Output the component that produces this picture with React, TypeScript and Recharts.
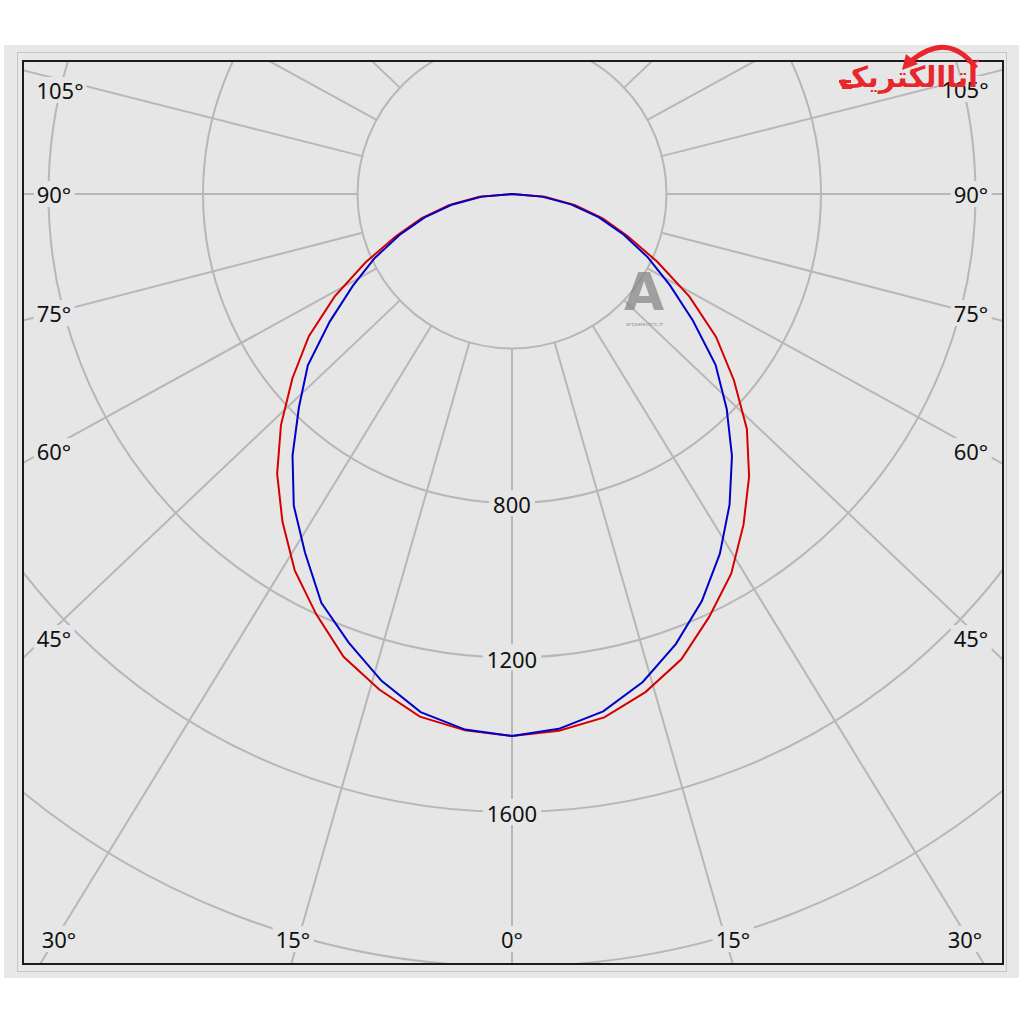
import React from "react"
import {
  RadarChart,
  Radar,
  PolarGrid,
  PolarAngleAxis,
  PolarRadiusAxis,
} from "recharts"

// ── Data (cd) ─────────────────────────────────────────────────────────────────

// gamma angle from nadir, 5° steps, one half-plane
const GAMMA = [0, 5, 10, 15, 20, 25, 30, 35, 40, 45, 50, 55, 60, 65, 70, 75, 80, 85, 90]

const RED_RIGHT  = [1403, 1395, 1376, 1335, 1282, 1208, 1135, 1045, 955, 860, 750, 645, 530, 415, 318, 243, 166, 85, 0]
const RED_LEFT   = [1403, 1394, 1374, 1328, 1275, 1200, 1125, 1036, 946, 846, 742, 642, 530, 418, 320, 243, 166, 85, 0]
const BLUE_RIGHT = [1403, 1390, 1360, 1308, 1240, 1163, 1076, 982, 886, 786, 688, 572, 472, 388, 308, 232, 155, 78, 0]
const BLUE_LEFT  = [1403, 1392, 1362, 1305, 1236, 1168, 1072, 985, 884, 780, 690, 576, 476, 392, 310, 234, 156, 78, 0]

const RADIUS_TICKS  = [400, 800, 1200, 1600, 2000, 2400, 2800]
const RADIUS_LABELS = [800, 1200, 1600]

// rays as the source program draws them (a touch wider than the nominal 15° steps)
const GRID_RAYS = [0, 16, 31.5, 46.5, 61.2, 75.5, 90, 104.2, 118.7, 133.5, 148.7, 164.2, 180]

const ANGLE_LABELS = [
  { text: "105°", x: 60, y: 90 },
  { text: "90°", x: 54, y: 194 },
  { text: "75°", x: 54, y: 313 },
  { text: "60°", x: 54, y: 451 },
  { text: "45°", x: 54, y: 638 },
  { text: "30°", x: 59, y: 939 },
  { text: "15°", x: 293, y: 939 },
  { text: "0°", x: 512, y: 939 },
  { text: "15°", x: 733, y: 939 },
  { text: "30°", x: 965, y: 939 },
  { text: "45°", x: 971, y: 638 },
  { text: "60°", x: 971, y: 451 },
  { text: "75°", x: 971, y: 313 },
  { text: "90°", x: 971, y: 194 },
  { text: "105°", x: 965, y: 89 },
]

// ── Geometry ─────────────────────────────────────────────────────────────────

const PX_PER_CD = 154.5 / 400
const FRAME = { left: 22, top: 60, width: 982, height: 905, border: 2 }
const CENTER = { x: 512, y: 194 }
const STEP = 5

// full circle of 5° rows, counter-clockwise from nadir; back half is dark
const rows: { gamma: number; red: number; blue: number }[] = []
for (let i = 0; i < 360 / STEP; i++) {
  const g = i * STEP
  let red = 0
  let blue = 0
  if (g <= 90) {
    const k = GAMMA.indexOf(g)
    red = RED_RIGHT[k]
    blue = BLUE_RIGHT[k]
  } else if (g >= 270) {
    const k = GAMMA.indexOf(360 - g)
    red = RED_LEFT[k]
    blue = BLUE_LEFT[k]
  }
  rows.push({ gamma: g, red, blue })
}

const gridAngles = [
  ...GRID_RAYS.map((a) => a - 90),
  ...GRID_RAYS.filter((a) => a > 0 && a < 180).map((a) => -90 - a),
]

const FONT = "'Noto Sans', 'DejaVu Sans', sans-serif"

function RadiusTick(props: any) {
  const { x, y, payload } = props
  if (!RADIUS_LABELS.includes(payload.value)) return <g />
  const w = String(payload.value).length * 12.6 + 8
  return (
    <g>
      <rect x={x - w / 2} y={y - 13} width={w} height={26} fill="#e6e6e6" />
      <text
        x={x}
        y={y + 1}
        textAnchor="middle"
        dominantBaseline="central"
        fontSize={22}
        fontFamily={FONT}
        fill="#111"
      >
        {payload.value}
      </text>
    </g>
  )
}

export default function App() {
  const inner = FRAME.width - 2 * FRAME.border
  const innerH = FRAME.height - 2 * FRAME.border
  const cx = CENTER.x - FRAME.left - FRAME.border
  const cy = CENTER.y - FRAME.top - FRAME.border

  return (
    <div style={{ position: "absolute", left: 0, top: 0, width: 1024, height: 1024, background: "#fff", fontFamily: FONT }}>
      {/* panel */}
      <div style={{ position: "absolute", left: 4, top: 45, width: 1015, height: 933, background: "#e8e8e8" }} />
      <div style={{ position: "absolute", left: 17, top: 52, width: 990, height: 920, border: "1px solid #c6c6c6", boxSizing: "border-box" }} />

      {/* plot frame */}
      <div
        style={{
          position: "absolute",
          left: FRAME.left,
          top: FRAME.top,
          width: FRAME.width,
          height: FRAME.height,
          border: `${FRAME.border}px solid #1c1c1c`,
          boxSizing: "border-box",
          background: "#e6e6e6",
          overflow: "hidden",
        }}
      >
        {/* recharts puts row i one step past startAngle on a full circle, hence -90 - STEP */}
        <RadarChart
          width={inner}
          height={innerH}
          data={rows}
          cx={cx}
          cy={cy}
          innerRadius={400 * PX_PER_CD}
          outerRadius={2800 * PX_PER_CD}
          startAngle={-90 - STEP}
          endAngle={270 - STEP}
          margin={{ top: 0, right: 0, bottom: 0, left: 0 }}
        >
          <PolarGrid
            gridType="circle"
            polarAngles={gridAngles}
            stroke="#b7b7b7"
            strokeWidth={2}
          />
          <PolarAngleAxis dataKey="gamma" tick={false} axisLine={false} />
          <PolarRadiusAxis
            type="number"
            angle={-90}
            domain={[400, 2800]}
            ticks={RADIUS_TICKS}
            tickCount={7}
            allowDataOverflow
            axisLine={false}
            tickLine={false}
            tick={<RadiusTick />}
          />
          <Radar
            dataKey="red"
            stroke="#d40000"
            strokeWidth={2}
            fill="none"
            fillOpacity={0}
            dot={false}
            isAnimationActive={false}
          />
          <Radar
            dataKey="blue"
            stroke="#0000c8"
            strokeWidth={2}
            fill="none"
            fillOpacity={0}
            dot={false}
            isAnimationActive={false}
          />
        </RadarChart>
      </div>

      {/* angle labels along the frame */}
      {ANGLE_LABELS.map((l, i) => (
        <div
          key={i}
          style={{
            position: "absolute",
            left: l.x,
            top: l.y,
            transform: "translate(-50%, -50%)",
            fontSize: 22,
            lineHeight: "26px",
            padding: "0 3px",
            background: "#e6e6e6",
            color: "#111",
            whiteSpace: "nowrap",
          }}
        >
          {l.text}
        </div>
      ))}

      {/* watermark in the middle */}
      <div style={{ position: "absolute", left: 624, top: 262, fontSize: 52, fontWeight: 700, color: "rgba(135,135,135,0.75)", fontFamily: "'DejaVu Sans', sans-serif" }}>A</div>
      <div style={{ position: "absolute", left: 626, top: 320, fontSize: 6, color: "rgba(130,130,130,0.8)" }}>artaelectric.ir</div>

      {/* logo top right */}
      <svg width={1024} height={1024} style={{ position: "absolute", left: 0, top: 0, pointerEvents: "none" }}>
        <path d="M 976 68 Q 948 30 910 62" stroke="#e8262b" strokeWidth={5} fill="none" />
        <path d="M 902 70 L 906 54 L 918 64 Z" fill="#e8262b" />
        <rect x={839} y={80} width={12} height={3} fill="#e8262b" />
        <rect x={842} y={86} width={10} height={3} fill="#e8262b" />
      </svg>
      <div
        dir="rtl"
        style={{
          position: "absolute",
          right: 1024 - 978,
          top: 60,
          fontSize: 29,
          lineHeight: "34px",
          fontWeight: 700,
          color: "#e8262b",
          fontFamily: "'DejaVu Sans', sans-serif",
          whiteSpace: "nowrap",
        }}
      >
        آتاالکتریک
      </div>
    </div>
  )
}
